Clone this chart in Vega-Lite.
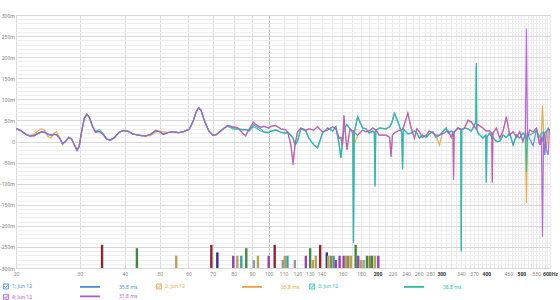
{
  "$schema": "https://vega.github.io/schema/vega-lite/v6.json",
  "width": 534,
  "height": 253,
  "autosize": {"type": "none"},
  "padding": {"left": 16, "top": 15, "right": 10, "bottom": 32},
  "background": "white",
  "config": {
    "view": {"stroke": "#d4d4d4"},
    "axis": {"domain": false, "ticks": false, "labelFont": "Noto Sans", "labelFontSize": 5, "labelColor": "#777777", "title": null, "labelOverlap": false, "labelBound": false, "labelFlush": false}
  },
  "datasets": {
    "series": [
      {"key": "a", "s": "1: Jun 12", "dl": "1 35.8 ms"},
      {"key": "b", "s": "2: Jun 12", "dl": "2 35.8 ms"},
      {"key": "c", "s": "3: Jun 12", "dl": "3 38.8 ms"},
      {"key": "d", "s": "4: Jun 12", "dl": "4 31.8 ms"}
    ],
    "modes": [
      {"f": 34.6, "v": -245, "k": "red"}, {"f": 43.2, "v": -253, "k": "green"}, {"f": 55.5, "v": -271, "k": "khaki"},
      {"f": 69.4, "v": -245, "k": "red"}, {"f": 72.1, "v": -263, "k": "navy"}, {"f": 79.8, "v": -271, "k": "purple"},
      {"f": 81.9, "v": -271, "k": "khaki"}, {"f": 84.0, "v": -271, "k": "teal"}, {"f": 86.7, "v": -253, "k": "green"},
      {"f": 91.0, "v": -281, "k": "grey"}, {"f": 93.4, "v": -271, "k": "khaki"}, {"f": 100.0, "v": -271, "k": "purple"},
      {"f": 103.9, "v": -245, "k": "red"}, {"f": 109.4, "v": -281, "k": "grey"}, {"f": 110.8, "v": -271, "k": "khaki"},
      {"f": 112.7, "v": -271, "k": "teal"}, {"f": 118.1, "v": -281, "k": "grey"}, {"f": 126.7, "v": -271, "k": "purple"},
      {"f": 130.2, "v": -253, "k": "green"}, {"f": 132.5, "v": -281, "k": "khaki"}, {"f": 135.0, "v": -271, "k": "khaki"},
      {"f": 138.8, "v": -245, "k": "red"}, {"f": 144.8, "v": -263, "k": "navy"}, {"f": 146.0, "v": -271, "k": "khaki"},
      {"f": 148.6, "v": -271, "k": "olive"}, {"f": 151.2, "v": -271, "k": "teal"}, {"f": 153.4, "v": -281, "k": "purple"},
      {"f": 157.1, "v": -271, "k": "purple"}, {"f": 161.2, "v": -271, "k": "purple"}, {"f": 163.6, "v": -271, "k": "khaki"},
      {"f": 166.0, "v": -271, "k": "olive"}, {"f": 168.9, "v": -271, "k": "khaki"}, {"f": 174.0, "v": -245, "k": "green"},
      {"f": 176.9, "v": -271, "k": "purple"}, {"f": 180.0, "v": -281, "k": "khaki"}, {"f": 183.1, "v": -281, "k": "grey"},
      {"f": 187.0, "v": -271, "k": "green"}, {"f": 190.3, "v": -271, "k": "olive"}, {"f": 193.1, "v": -271, "k": "green"},
      {"f": 196.8, "v": -271, "k": "khaki"}, {"f": 201.0, "v": -271, "k": "purple"}
    ],
    "gd": [
      {"f": 20, "a": 31, "b": 31, "c": 31, "d": 31},
      {"f": 20.6, "a": 26, "b": 26, "c": 26, "d": 26},
      {"f": 21.3, "a": 17, "b": 17, "c": 17, "d": 17},
      {"f": 21.8, "a": 13, "b": 14, "c": 13, "d": 13},
      {"f": 22.5, "a": 14, "b": 18, "c": 14, "d": 14},
      {"f": 23, "a": 19, "b": 25, "c": 19, "d": 19},
      {"f": 23.5, "a": 23, "b": 30, "c": 23, "d": 23},
      {"f": 24, "a": 22, "b": 27, "c": 22, "d": 22},
      {"f": 24.5, "a": 17, "b": 12, "c": 17, "d": 17},
      {"f": 25, "a": 15, "b": 9, "c": 15, "d": 15},
      {"f": 25.5, "a": 17, "b": 20, "c": 17, "d": 17},
      {"f": 25.9, "a": 16, "b": 23, "c": 16, "d": 16},
      {"f": 26.4, "a": 8, "b": 10, "c": 8, "d": 8},
      {"f": 26.9, "a": -5, "b": -8, "c": -5, "d": -5},
      {"f": 27.4, "a": 0, "b": 0, "c": 0, "d": 0},
      {"f": 28, "a": 10, "b": 10, "c": 10, "d": 10},
      {"f": 28.5, "a": 6, "b": 6, "c": 6, "d": 6},
      {"f": 29, "a": -8, "b": -8, "c": -8, "d": -8},
      {"f": 29.5, "a": -21, "b": -21, "c": -21, "d": -21},
      {"f": 29.9, "a": -12, "b": -12, "c": -12, "d": -12},
      {"f": 30.4, "a": 25, "b": 25, "c": 25, "d": 25},
      {"f": 30.9, "a": 55, "b": 55, "c": 55, "d": 55},
      {"f": 31.4, "a": 65, "b": 65, "c": 65, "d": 65},
      {"f": 31.9, "a": 57, "b": 57, "c": 57, "d": 57},
      {"f": 32.6, "a": 35, "b": 35, "c": 35, "d": 35},
      {"f": 33.2, "a": 22, "b": 22, "c": 24, "d": 22},
      {"f": 34, "a": 24, "b": 24, "c": 28, "d": 24},
      {"f": 34.8, "a": 17, "b": 17, "c": 20, "d": 17},
      {"f": 35.6, "a": 6, "b": 6, "c": 6, "d": 6},
      {"f": 36.4, "a": 3, "b": 3, "c": 3, "d": 3},
      {"f": 37.4, "a": 9, "b": 9, "c": 9, "d": 9},
      {"f": 38.6, "a": 22, "b": 22, "c": 22, "d": 22},
      {"f": 39.6, "a": 26, "b": 26, "c": 26, "d": 26},
      {"f": 40.9, "a": 24, "b": 24, "c": 24, "d": 24},
      {"f": 42.1, "a": 18, "b": 18, "c": 18, "d": 18},
      {"f": 43.5, "a": 15, "b": 15, "c": 15, "d": 15},
      {"f": 45.6, "a": 13, "b": 13, "c": 13, "d": 13},
      {"f": 47.1, "a": 17, "b": 14, "c": 17, "d": 17},
      {"f": 48.7, "a": 26, "b": 22, "c": 26, "d": 26},
      {"f": 49.9, "a": 23, "b": 25, "c": 23, "d": 23},
      {"f": 51.2, "a": 17, "b": 23, "c": 17, "d": 17},
      {"f": 52.5, "a": 21, "b": 21, "c": 21, "d": 21},
      {"f": 54.3, "a": 23, "b": 23, "c": 23, "d": 23},
      {"f": 56.4, "a": 21, "b": 21, "c": 21, "d": 21},
      {"f": 58.3, "a": 24, "b": 24, "c": 24, "d": 24},
      {"f": 60.3, "a": 29, "b": 29, "c": 29, "d": 29},
      {"f": 61.8, "a": 48, "b": 48, "c": 48, "d": 48},
      {"f": 63, "a": 70, "b": 70, "c": 70, "d": 70},
      {"f": 64, "a": 80, "b": 80, "c": 80, "d": 80},
      {"f": 65, "a": 74, "b": 74, "c": 74, "d": 74},
      {"f": 66.5, "a": 48, "b": 48, "c": 48, "d": 48},
      {"f": 68.2, "a": 26, "b": 26, "c": 26, "d": 26},
      {"f": 70, "a": 15, "b": 15, "c": 15, "d": 15},
      {"f": 71.6, "a": 16, "b": 16, "c": 16, "d": 16},
      {"f": 73.2, "a": 23, "b": 23, "c": 23, "d": 23},
      {"f": 75.1, "a": 31, "b": 31, "c": 31, "d": 31},
      {"f": 77.1, "a": 38, "b": 38, "c": 36, "d": 38},
      {"f": 79.5, "a": 33, "b": 35, "c": 30, "d": 35},
      {"f": 82, "a": 31, "b": 33, "c": 29, "d": 33},
      {"f": 84.7, "a": 28, "b": 20, "c": 27, "d": 20},
      {"f": 86.3, "a": 28, "b": 12, "c": 28, "d": 14},
      {"f": 88.4, "a": 27, "b": 30, "c": 25, "d": 30},
      {"f": 90.7, "a": 40, "b": 44, "c": 35, "d": 46},
      {"f": 92.3, "a": 36, "b": 38, "c": 32, "d": 40},
      {"f": 95, "a": 30, "b": 34, "c": 25, "d": 34},
      {"f": 97.3, "a": 22, "b": 35, "c": 22, "d": 36},
      {"f": 100, "a": 22, "b": 32, "c": 20, "d": 32},
      {"f": 101.3, "a": 24, "b": 35, "c": 25, "d": 36},
      {"f": 104.6, "a": 27, "b": 38, "c": 28, "d": 38},
      {"f": 108, "a": 22, "b": 30, "c": 22, "d": 30},
      {"f": 111.5, "a": 20, "b": 27, "c": 20, "d": 28},
      {"f": 112.9, "a": 22, "b": 22, "c": 22, "d": 23},
      {"f": 115.1, "a": 15, "b": -5, "c": 15, "d": -8},
      {"f": 116.8, "a": 8, "b": -45, "c": 8, "d": -56},
      {"f": 118.3, "a": -8, "b": -8, "c": -8, "d": -8},
      {"f": 120.1, "a": 0, "b": 22, "c": 0, "d": 23},
      {"f": 122.7, "a": 30, "b": 32, "c": 30, "d": 32},
      {"f": 126.7, "a": 25, "b": 27, "c": 25, "d": 27},
      {"f": 129.1, "a": 8, "b": 30, "c": 8, "d": 30},
      {"f": 133.3, "a": -8, "b": 27, "c": -8, "d": 27},
      {"f": 136.5, "a": -15, "b": 35, "c": -15, "d": 35},
      {"f": 140.9, "a": 20, "b": 23, "c": 20, "d": 23},
      {"f": 145.5, "a": 32, "b": 27, "c": 32, "d": 27},
      {"f": 150.2, "a": 25, "b": 35, "c": 25, "d": 35},
      {"f": 153.4, "a": 35, "b": 30, "c": 35, "d": 30},
      {"f": 156.7, "a": -8, "b": 8, "c": -8, "d": 8},
      {"f": 158.4, "a": -39, "b": 10, "c": -39, "d": 10},
      {"f": 160, "a": 0, "b": -10, "c": 0, "d": -10},
      {"f": 161.5, "a": 30, "b": 60, "c": 30, "d": 63},
      {"f": 163, "a": 35, "b": 20, "c": 35, "d": 20},
      {"f": 164.6, "a": 40, "b": -20, "c": 40, "d": -20},
      {"f": 167.8, "a": 30, "b": 30, "c": 30, "d": 30},
      {"f": 171, "a": 20, "b": 25, "c": 20, "d": 25},
      {"f": 171.6, "a": -241, "b": 25, "c": -236, "d": 25},
      {"f": 172.4, "a": 20, "b": -8, "c": 20, "d": 22},
      {"f": 176.2, "a": 59, "b": 15, "c": 59, "d": 15},
      {"f": 181.9, "a": 32, "b": 27, "c": 32, "d": 27},
      {"f": 185.8, "a": 30, "b": 23, "c": 30, "d": 23},
      {"f": 189.8, "a": 20, "b": 25, "c": 20, "d": 25},
      {"f": 194, "a": 25, "b": 32, "c": 25, "d": 32},
      {"f": 196, "a": 22, "b": 30, "c": 22, "d": 30},
      {"f": 196.8, "a": -107, "b": 28, "c": -104, "d": 28},
      {"f": 197.8, "a": 26, "b": 28, "c": 26, "d": 28},
      {"f": 202.3, "a": 32, "b": 15, "c": 32, "d": 15},
      {"f": 211.2, "a": 30, "b": 15, "c": 30, "d": 15},
      {"f": 216, "a": 35, "b": 10, "c": 35, "d": 10},
      {"f": 218, "a": 40, "b": -36, "c": 40, "d": -36},
      {"f": 220, "a": 50, "b": 15, "c": 50, "d": 15},
      {"f": 222.7, "a": 67, "b": 20, "c": 67, "d": 20},
      {"f": 227.5, "a": 48, "b": 25, "c": 48, "d": 25},
      {"f": 233.5, "a": 20, "b": 28, "c": 20, "d": 28},
      {"f": 234.6, "a": -67, "b": 30, "c": -64, "d": 30},
      {"f": 235.7, "a": 30, "b": 32, "c": 30, "d": 32},
      {"f": 242.6, "a": 18, "b": 66, "c": 18, "d": 68},
      {"f": 247.8, "a": 20, "b": 32, "c": 20, "d": 32},
      {"f": 253, "a": 25, "b": 8, "c": 25, "d": 8},
      {"f": 257, "a": 20, "b": 30, "c": 20, "d": 30},
      {"f": 261.2, "a": 8, "b": 23, "c": 8, "d": 23},
      {"f": 266, "a": 15, "b": 10, "c": 15, "d": 10},
      {"f": 272.7, "a": 10, "b": 15, "c": 10, "d": 15},
      {"f": 278, "a": 18, "b": 25, "c": 18, "d": 25},
      {"f": 284.6, "a": 23, "b": 20, "c": 23, "d": 20},
      {"f": 290, "a": 10, "b": 15, "c": 10, "d": 15},
      {"f": 296.8, "a": 15, "b": -8, "c": 15, "d": 15},
      {"f": 302, "a": 22, "b": 18, "c": 22, "d": 18},
      {"f": 309.8, "a": 32, "b": 23, "c": 32, "d": 23},
      {"f": 314, "a": 20, "b": 25, "c": 20, "d": 25},
      {"f": 319.9, "a": 25, "b": 10, "c": 25, "d": 10},
      {"f": 323.4, "a": 22, "b": 22, "c": 22, "d": 22},
      {"f": 324.6, "a": 20, "b": -80, "c": 20, "d": -91},
      {"f": 325.8, "a": 22, "b": 22, "c": 22, "d": 22},
      {"f": 333.8, "a": 32, "b": 32, "c": 32, "d": 32},
      {"f": 340, "a": 30, "b": 28, "c": 30, "d": 28},
      {"f": 341, "a": -261, "b": 28, "c": -258, "d": 28},
      {"f": 342, "a": 28, "b": 28, "c": 28, "d": 28},
      {"f": 348.2, "a": 32, "b": 32, "c": 32, "d": 32},
      {"f": 355.8, "a": 30, "b": 48, "c": 30, "d": 51},
      {"f": 363.5, "a": 25, "b": 45, "c": 25, "d": 47},
      {"f": 371.2, "a": 40, "b": 35, "c": 40, "d": 35},
      {"f": 374.2, "a": 45, "b": 30, "c": 45, "d": 30},
      {"f": 375.2, "a": 186, "b": 30, "c": 178, "d": 30},
      {"f": 376.2, "a": 30, "b": 38, "c": 30, "d": 38},
      {"f": 379.3, "a": 20, "b": 40, "c": 20, "d": 40},
      {"f": 391.6, "a": 8, "b": 32, "c": 8, "d": 32},
      {"f": 398.5, "a": 15, "b": 25, "c": 15, "d": 25},
      {"f": 400, "a": -98, "b": 25, "c": -95, "d": 25},
      {"f": 401.5, "a": 10, "b": 25, "c": 10, "d": 25},
      {"f": 408.4, "a": 20, "b": 25, "c": 20, "d": 25},
      {"f": 414, "a": 12, "b": 20, "c": 12, "d": 20},
      {"f": 415.5, "a": 10, "b": -95, "c": 10, "d": -98},
      {"f": 417, "a": 10, "b": 20, "c": 10, "d": 20},
      {"f": 426.4, "a": 0, "b": 32, "c": 0, "d": 32},
      {"f": 435.5, "a": 0, "b": 8, "c": 0, "d": 8},
      {"f": 445, "a": 15, "b": 25, "c": 15, "d": 25},
      {"f": 454.4, "a": 10, "b": 57, "c": 10, "d": 59},
      {"f": 464.2, "a": 20, "b": 15, "c": 20, "d": 15},
      {"f": 474.2, "a": -8, "b": 23, "c": -8, "d": 23},
      {"f": 485, "a": 15, "b": 10, "c": 15, "d": 10},
      {"f": 494.8, "a": 8, "b": 23, "c": 8, "d": 23},
      {"f": 505, "a": 20, "b": 0, "c": 20, "d": 0},
      {"f": 513, "a": 15, "b": 20, "c": 15, "d": 20},
      {"f": 516.4, "a": 0, "b": -146, "c": -72, "d": 268},
      {"f": 519.8, "a": 20, "b": 15, "c": 20, "d": 10},
      {"f": 527.5, "a": 5, "b": 27, "c": 15, "d": 27},
      {"f": 539, "a": -10, "b": 23, "c": 20, "d": 23},
      {"f": 550.6, "a": 30, "b": 32, "c": 25, "d": 32},
      {"f": 562.2, "a": -8, "b": -8, "c": 10, "d": -8},
      {"f": 568, "a": 10, "b": 15, "c": 20, "d": 12},
      {"f": 572, "a": 0, "b": 86, "c": 20, "d": -226},
      {"f": 576, "a": 20, "b": 25, "c": 22, "d": 20},
      {"f": 580.4, "a": -32, "b": 15, "c": 20, "d": 15},
      {"f": 586, "a": 20, "b": -15, "c": 25, "d": -20},
      {"f": 593.2, "a": 32, "b": 25, "c": 30, "d": -32},
      {"f": 598, "a": 25, "b": 30, "c": 28, "d": 30}
    ]
  },
  "encoding": {
    "x": {
      "field": "f", "type": "quantitative",
      "scale": {"type": "log", "domain": [20, 600], "nice": false},
      "axis": {
        "values": [20,30,40,50,60,70,80,90,100,110,120,130,140,150,160,170,180,190,200,210,220,230,240,250,260,270,280,290,300,310,320,330,340,350,360,370,380,390,400,410,420,430,440,450,460,470,480,490,500,510,520,530,540,550,560,570,580,590,600],
        "labelExpr": "indexof([20,30,40,50,60,70,80,90,100,110,120,130,140,160,180,200,220,240,260,280,300,340,370,400,460,500,550,600], datum.value) >= 0 ? (datum.value == 600 ? '600Hz' : '' + datum.value) : ''",
        "labelPadding": 3,
        "labelFontWeight": {"condition": {"test": "datum.value == 200 || datum.value == 300 || datum.value == 400 || datum.value == 500 || datum.value == 600", "value": "bold"}, "value": "normal"},
        "labelColor": {"condition": {"test": "datum.value == 200 || datum.value == 300 || datum.value == 400 || datum.value == 500 || datum.value == 600", "value": "#333333"}, "value": "#808080"},
        "gridColor": {"condition": [{"test": "datum.value == 100", "value": "#c2c2c2"}, {"test": "datum.value < 100", "value": "#dcdcdc"}], "value": "#e9e9e9"}
      }
    },
    "y": {
      "field": "v", "type": "quantitative",
      "scale": {"domain": [-300, 300], "nice": false, "zero": false},
      "axis": {
        "values": [-300,-290,-280,-270,-260,-250,-240,-230,-220,-210,-200,-190,-180,-170,-160,-150,-140,-130,-120,-110,-100,-90,-80,-70,-60,-50,-40,-30,-20,-10,0,10,20,30,40,50,60,70,80,90,100,110,120,130,140,150,160,170,180,190,200,210,220,230,240,250,260,270,280,290,300],
        "labelExpr": "datum.value % 50 == 0 ? (datum.value == 0 ? '0' : datum.value + 'm') : ''",
        "labelPadding": 1.5,
        "gridColor": {"condition": {"test": "datum.value % 50 == 0", "value": "#d8d8d8"}, "value": "#eeeeee"}
      }
    }
  },
  "layer": [
    {
      "data": {"name": "modes"},
      "mark": {"type": "rule", "strokeWidth": 2.4},
      "encoding": {
        "y2": {"datum": -300},
        "stroke": {
          "field": "k", "type": "nominal", "legend": null,
          "scale": {
            "domain": ["red", "green", "navy", "khaki", "purple", "teal", "grey", "olive"],
            "range": ["#8e2434", "#3f8a3f", "#2d3391", "#b5a35a", "#9c3fb0", "#3b9fa5", "#9a9a9a", "#8c8c3c"]
          }
        }
      }
    },
    {
      "data": {"name": "gd"},
      "transform": [
        {"fold": ["a", "b", "c", "d"], "as": ["key", "v"]},
        {"lookup": "key", "from": {"data": {"name": "series"}, "key": "key", "fields": ["s", "dl"]}}
      ],
      "mark": {"type": "line", "strokeWidth": 1.2, "opacity": 0.9, "clip": true},
      "encoding": {
        "color": {
          "field": "s", "type": "nominal",
          "scale": {"domain": ["1: Jun 12", "2: Jun 12", "3: Jun 12", "4: Jun 12"], "range": ["#3f8fd4", "#e3a43a", "#25bfa2", "#b057d4"]},
          "legend": {
            "orient": "none", "legendX": -13, "legendY": 268, "direction": "horizontal", "columns": 3,
            "title": null,
            "symbolType": "M-1,-1H1V1H-1Z M-0.6,0L-0.15,0.5L0.65,-0.55",
            "symbolSize": 25, "symbolStrokeWidth": 0.8,
            "labelFont": "Noto Sans", "labelFontSize": 5, "labelOffset": 3,
            "columnPadding": 121, "rowPadding": 0.8,
            "encoding": {
              "labels": {"fill": {"value": {"expr": "scale('color', datum.value)"}}},
              "symbols": {"stroke": {"value": "#3a78c8"}, "fill": {"value": "#e4eefa"}, "opacity": {"value": 1}}
            }
          }
        },
        "strokeDash": {
          "field": "dl", "type": "nominal",
          "scale": {"domain": ["1 35.8 ms", "2 35.8 ms", "3 38.8 ms", "4 31.8 ms"], "range": [[1, 0], [1, 0], [1, 0], [1, 0]]},
          "legend": {
            "orient": "none", "legendX": 70.5, "legendY": 268, "direction": "horizontal", "columns": 3,
            "title": null,
            "symbolType": "M-4,0H4", "symbolSize": 25, "symbolStrokeWidth": 1.8,
            "labelExpr": "slice(datum.label, 2)",
            "labelFont": "Noto Sans", "labelFontSize": 5, "labelOffset": 25.5,
            "columnPadding": 100, "rowPadding": 0.8,
            "encoding": {
              "labels": {"fill": {"value": {"expr": "scale('color', slice(datum.value, 0, 1) + ': Jun 12')"}}},
              "symbols": {"stroke": {"value": {"expr": "scale('color', slice(datum.value, 0, 1) + ': Jun 12')"}}, "opacity": {"value": 1}}
            }
          }
        }
      }
    }
  ]
}
